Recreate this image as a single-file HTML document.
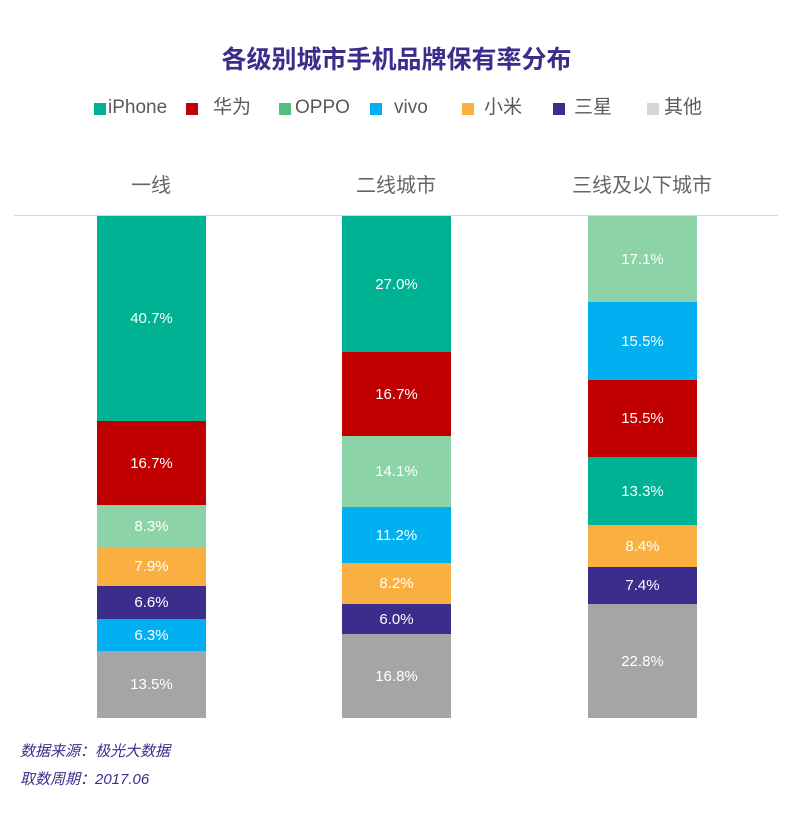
<!DOCTYPE html>
<html><head><meta charset="utf-8"><style>
body{margin:0;width:793px;height:819px;background:#fff;position:relative;overflow:hidden;font-family:"Liberation Sans","Noto Sans CJK SC",sans-serif}
.a{position:absolute}
.t{position:absolute;white-space:nowrap}
.sq{position:absolute;width:12px;height:12px;top:103px}
.lg{position:absolute;top:96px;font-size:19px;color:#595959;line-height:24px}
.seg{position:absolute;color:#fff;font-size:15px;display:flex;align-items:center;justify-content:center}
.cat{position:absolute;top:169px;font-size:20px;color:#666;text-align:center;width:240px}
</style></head><body>
<div class="t" style="left:0;width:793px;text-align:center;top:40px;font-size:25px;font-weight:bold;color:#3c2d8c">各级别城市手机品牌保有率分布</div>
<div class="sq" style="left:94px;background:#00b294"></div><div class="lg" style="left:108px">iPhone</div>
<div class="sq" style="left:186px;background:#c00000"></div><div class="lg" style="left:213px">华为</div>
<div class="sq" style="left:279px;background:#50c080"></div><div class="lg" style="left:295px">OPPO</div>
<div class="sq" style="left:370px;background:#00b0f0"></div><div class="lg" style="left:394px">vivo</div>
<div class="sq" style="left:462px;background:#f9b040"></div><div class="lg" style="left:484px">小米</div>
<div class="sq" style="left:553px;background:#3c2d8c"></div><div class="lg" style="left:574px">三星</div>
<div class="sq" style="left:647px;background:#d6d6d6"></div><div class="lg" style="left:664px">其他</div>
<div class="cat" style="left:31px">一线</div>
<div class="cat" style="left:276px">二线城市</div>
<div class="cat" style="left:522px">三线及以下城市</div>
<div class="a" style="left:14px;top:215px;width:764px;height:1px;background:#d8d8d8"></div>
<div class="t" style="left:20px;top:740px;font-size:15px;font-style:italic;color:#3c2d8c">数据来源：极光大数据</div>
<div class="t" style="left:20px;top:768px;font-size:15px;font-style:italic;color:#3c2d8c">取数周期：2017.06</div>
<div id="bars"></div>
<script>
var C={i:"#00b294",h:"#c00000",o:"#8dd3a8",v:"#00b0f0",x:"#f9b040",s:"#3c2d8c",q:"#a5a5a5"};
var B=[[97,[[216,421,"i","40.7%"],[421,505,"h","16.7%"],[505,547,"o","8.3%"],[547,586,"x","7.9%"],[586,619,"s","6.6%"],[619,651,"v","6.3%"],[651,718,"q","13.5%"]]],
[342,[[216,352,"i","27.0%"],[352,436,"h","16.7%"],[436,507,"o","14.1%"],[507,563,"v","11.2%"],[563,604,"x","8.2%"],[604,634,"s","6.0%"],[634,718,"q","16.8%"]]],
[588,[[216,302,"o","17.1%"],[302,380,"v","15.5%"],[380,457,"h","15.5%"],[457,525,"i","13.3%"],[525,567,"x","8.4%"],[567,604,"s","7.4%"],[604,718,"q","22.8%"]]]];
var h="";B.forEach(function(b){b[1].forEach(function(s){h+='<div class="seg" style="left:'+b[0]+'px;width:109px;top:'+s[0]+'px;height:'+(s[1]-s[0])+'px;background:'+C[s[2]]+'">'+s[3]+'</div>';});});
document.getElementById("bars").innerHTML=h;
</script>
</body></html>
